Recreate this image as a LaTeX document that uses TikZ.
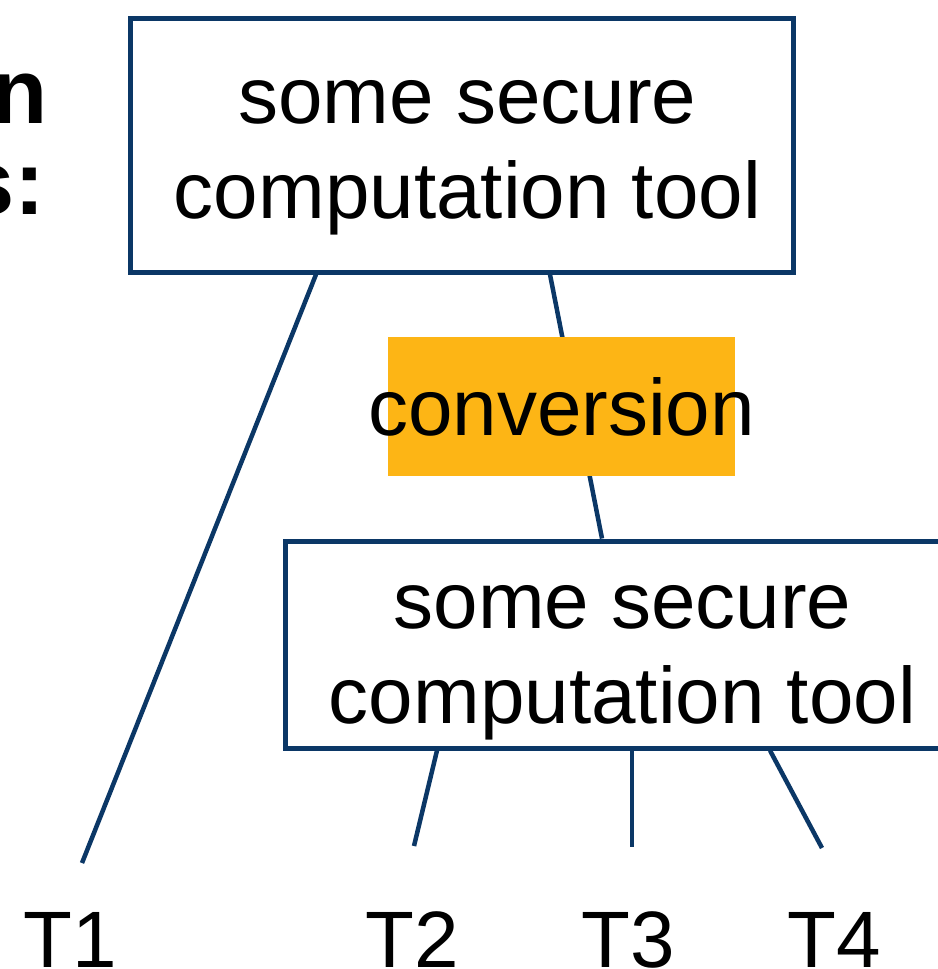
\documentclass[tikz,border=0pt]{standalone}
\usepackage{fontspec}
\setmainfont{Liberation Sans}
\usetikzlibrary{shadows,positioning}
\definecolor{navy}{HTML}{0B3766}
\definecolor{gold}{HTML}{FDB515}
\tikzset{
  toolbox/.style={draw=navy, line width=5pt, fill=white, inner sep=0pt, align=center,
    font=\fontsize{80}{95}\selectfont, text depth=17pt,
    drop shadow={opacity=0.25, shadow xshift=3pt, shadow yshift=-3pt}},
  convbox/.style={fill=gold, inner sep=0pt, minimum height=139pt, font=\fontsize{80}{95}\selectfont},
  tline/.style={draw=navy, line width=4.5pt},
  leaf/.style={anchor=base, font=\fontsize{80}{95}\selectfont},
  cuttext/.style={anchor=base east, font=\fontsize{92}{100}\selectfont\bfseries}
}

\begin{document}
\begin{tikzpicture}[x=1pt,y=-1pt]
\useasboundingbox (0,0) rectangle (937,969);
% slide title, cut off at the left
\node[cuttext] (ttl1) at (51,123) {n};
\node[cuttext] (ttl2) at (49,214) {s:};

% the two tools
\node[toolbox, minimum width=663pt, minimum height=254pt, text height=163pt] (toptool) at (461.5,145) {\hspace*{12pt}some secure\\\hspace*{12pt}computation tool};
\node[toolbox, minimum width=675pt, minimum height=207pt, text height=174pt] (bottool) at (622.5,644.5) {some secure\\computation tool};

% inputs
\node[leaf] (t1) at (70,967) {T1};
\node[leaf] (t2) at (412,967) {T2};
\node[leaf] (t3) at (628,967) {T3};
\node[leaf] (t4) at (834,967) {T4};
\coordinate (e1) at (82,863);
\coordinate (e2) at (414,846);
\coordinate (e3) at (632,847);
\coordinate (e4) at (822,848);

\draw[tline] ([xshift=-145.5pt]toptool.south) -- (e1);
\draw[tline] ([xshift=88.5pt]toptool.south) -- ([xshift=-20.5pt]bottool.north);
\draw[tline] ([xshift=-185.5pt]bottool.south) -- (e2);
\draw[tline] ([xshift=9.5pt]bottool.south) -- (e3);
\draw[tline] ([xshift=147.5pt]bottool.south) -- (e4);

\node[convbox, minimum width=347pt] (conv) at (561.5,406.5) {\makebox[347pt]{conversion}};
\end{tikzpicture}
\end{document}
